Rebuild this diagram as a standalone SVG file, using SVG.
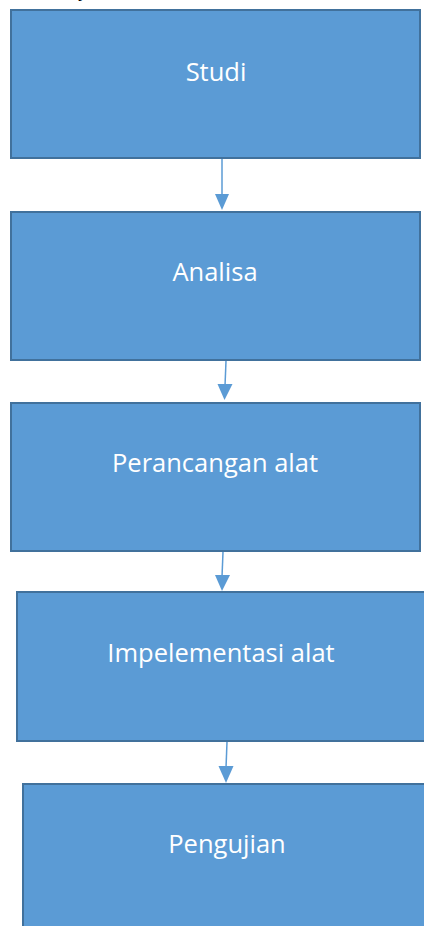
<svg xmlns="http://www.w3.org/2000/svg" width="424" height="926" viewBox="0 0 424 926">
<style>
.box{fill:#5B9BD5;stroke:#41719C;stroke-width:2}
.lbl{fill:#FFFFFF;font-family:"Open Sans","Liberation Sans",sans-serif;font-size:25.5px;text-anchor:middle}
.conn{stroke:#5B9BD5;stroke-width:1.5;fill:none}
</style>
<rect width="424" height="926" fill="#FFFFFF"/>
<text x="78" y="-3" font-family="Liberation Sans,sans-serif" font-size="20" fill="#000">y</text>
<g id="n1"><rect class="box" x="11" y="10" width="409" height="148"/><text class="lbl" x="216" y="81">Studi</text></g>
<g id="n2"><rect class="box" x="11" y="212" width="409" height="148"/><text class="lbl" x="215" y="281">Analisa</text></g>
<g id="n3"><rect class="box" x="11" y="403" width="409" height="148"/><text class="lbl" x="215" y="472">Perancangan alat</text></g>
<g id="n4"><rect class="box" x="17" y="592" width="410" height="149"/><text class="lbl" x="221" y="662">Impelementasi alat</text></g>
<g id="n5"><rect class="box" x="23" y="784" width="410" height="149"/><text class="lbl" x="227" y="853">Pengujian</text></g>
<g id="connectors">
<line class="conn" x1="222" y1="159" x2="222" y2="196"/>
<path d="M215,194 L229,194 L222,210 Z" fill="#5B9BD5"/>
<line class="conn" x1="226" y1="361" x2="225" y2="386"/>
<path d="M217.5,384 L232.5,384 L224.5,400 Z" fill="#5B9BD5"/>
<line class="conn" x1="223" y1="552" x2="222" y2="577"/>
<path d="M215,575 L230,575 L222,591 Z" fill="#5B9BD5"/>
<line class="conn" x1="227" y1="742" x2="226" y2="768"/>
<path d="M218.5,766 L233.5,766 L226,783 Z" fill="#5B9BD5"/>
</g>
</svg>
